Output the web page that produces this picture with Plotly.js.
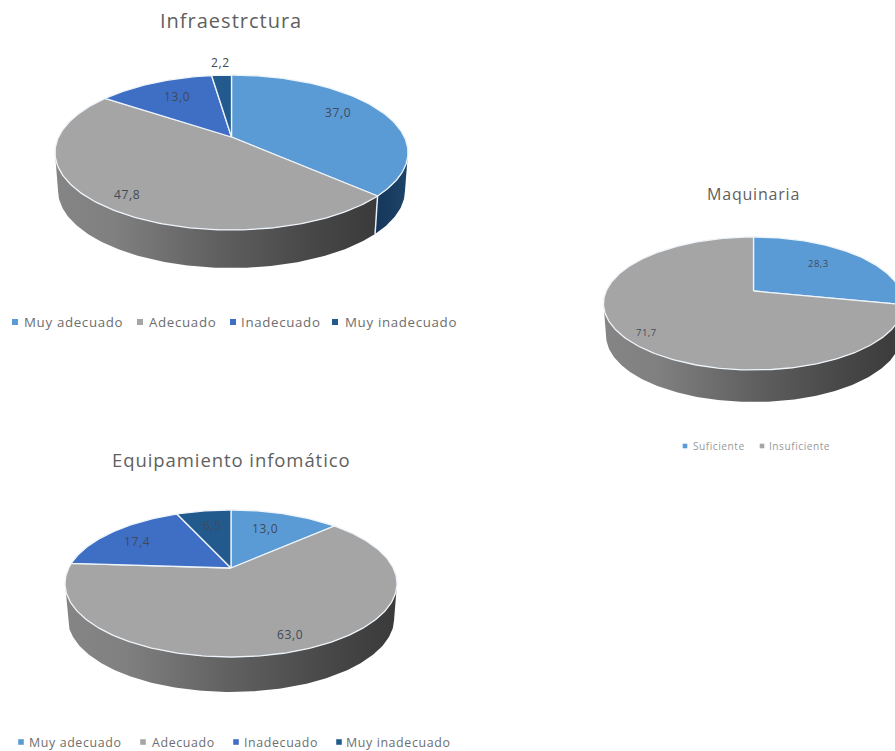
<!DOCTYPE html>
<html>
<head>
<meta charset="utf-8">
<script src="https://cdn.plot.ly/plotly-3.0.1.min.js"></script>
<style>
html,body{margin:0;padding:0;background:#fff}
#chart{width:895px;height:751px}
.annotation-text{letter-spacing:.05em}
</style>
</head>
<body>
<div id="chart"></div>
<script>
// Survey results, in percent
const adequacyLevels = ['Muy adecuado', 'Adecuado', 'Inadecuado', 'Muy inadecuado'];
const sufficiencyLevels = ['Suficiente', 'Insuficiente'];
const infraValues = [37.0, 47.8, 13.0, 2.2];
const maquinariaValues = [28.3, 71.7];
const equipoValues = [13.0, 63.0, 17.4, 6.5];

const sliceColors = ['#5B9BD5', '#A5A5A5', '#3F6FC4', '#235A8E'];
const wallColors = [
  [[0, '#15365a'], [1, '#1d4468']],
  [[0, '#858585'], [0.18, '#808080'], [0.5, '#606060'], [0.8, '#474747'], [1, '#3a3a3a']],
  [[0, '#2b4c8c'], [1, '#2b4c8c']],
  [[0, '#143a5e'], [1, '#143a5e']]
];
const inkColor = '#5f5f5f';

// Layout of each tilted pie: rim extents, apex height, wall depth, and text placement
const pies = [
  {
    title: 'Infraestrctura', titleX: 231, titleY: 20, titleSize: 20,
    values: infraValues, names: adequacyLevels,
    cx: 231.5, apexY: 137, topY: 75, botY: 230, halfW: 176.5, depth: 38,
    labelSize: 12, labelPos: [[338, 112], [127, 194], [177, 96], [220, 62]],
    legendY: 322, legendSize: 13.3, legendColor: '#6e6e6e',
    legendSwatch: [15, 140, 233, 335], legendText: [22, 147, 239, 343]
  },
  {
    title: 'Maquinaria', titleX: 753, titleY: 194, titleSize: 16,
    values: maquinariaValues, names: sufficiencyLevels,
    cx: 753.5, apexY: 291, topY: 237, botY: 370, halfW: 150, depth: 32,
    labelSize: 9.5, labelPos: [[818, 263], [646, 332]],
    legendY: 446, legendSize: 10.2, legendColor: '#9a9a9a',
    legendSwatch: [685, 762], legendText: [691, 767]
  },
  {
    title: 'Equipamiento infomático', titleX: 231, titleY: 459, titleSize: 18.5,
    values: equipoValues, names: adequacyLevels,
    cx: 231, apexY: 568, topY: 510, botY: 657, halfW: 166, depth: 35,
    labelSize: 12, labelPos: [[265, 528], [290, 634], [137, 541], [212, 525]],
    legendY: 742, legendSize: 12.4, legendColor: '#6e6e6e',
    legendSwatch: [21, 143, 236, 339], legendText: [27, 150, 242, 344]
  }
];

const traces = [];
const annotations = [];

function buildPie(p) {
  // Perspective view of a horizontal disc: the apex sits above the centre of the rim ellipse
  const up = p.apexY - p.topY, down = p.botY - p.apexY;
  const tilt = (up - down) / (up + down);
  const A = down * (1 + tilt);
  const K = p.halfW * Math.sqrt(1 - tilt * tilt);
  const rim = (t, shrink, drop) => {
    const u = Math.sin(t), v = -Math.cos(t), d = 1 + tilt * v;
    return [p.cx + shrink * K * u / d, p.apexY + drop + A * v / d];
  };
  const arc = (a, b, shrink, drop) => {
    const pts = [], n = Math.max(2, Math.ceil(Math.abs(b - a) * 60));
    for (let i = 0; i <= n; i++) pts.push(rim(a + (b - a) * i / n, shrink, drop));
    return pts;
  };
  const total = p.values.reduce((s, x) => s + x, 0);
  const bounds = [0];
  p.values.forEach(x => bounds.push(bounds[bounds.length - 1] + x / total * 2 * Math.PI));

  // Front of the disc is visible between the two widest points of the rim
  const visA = Math.acos(tilt), visB = 2 * Math.PI - visA;
  const bottomShrink = 0.983;

  p.values.forEach((_, i) => {
    const a = Math.max(bounds[i], visA), b = Math.min(bounds[i + 1], visB);
    if (b <= a) return;
    const top = arc(a, b, 1, 0), low = arc(b, a, bottomShrink, p.depth);
    const poly = top.concat(low, [top[0]]);
    traces.push({
      type: 'scatter', mode: 'lines', hoverinfo: 'skip', showlegend: false,
      x: poly.map(q => q[0]), y: poly.map(q => q[1]),
      line: {width: 0}, fill: 'toself',
      fillgradient: {type: 'horizontal', colorscale: wallColors[i]}
    });
  });

  // Seams on the front wall where two slices meet
  bounds.slice(1, -1).forEach(t => {
    if (t <= visA || t >= visB) return;
    const s = [rim(t, 1, 0), rim(t, bottomShrink, p.depth)];
    traces.push({
      type: 'scatter', mode: 'lines', hoverinfo: 'skip', showlegend: false,
      x: s.map(q => q[0]), y: s.map(q => q[1]),
      line: {color: '#e6eff7', width: 1.5}
    });
  });

  // Top face
  p.values.forEach((val, i) => {
    const pts = [[p.cx, p.apexY]].concat(arc(bounds[i], bounds[i + 1], 1, 0), [[p.cx, p.apexY]]);
    traces.push({
      type: 'scatter', mode: 'lines', showlegend: false,
      name: p.names[i], hoverinfo: 'name',
      x: pts.map(q => q[0]), y: pts.map(q => q[1]),
      line: {color: '#eef4fa', width: 1.3}, fill: 'toself', fillcolor: sliceColors[i]
    });
    annotations.push({
      x: p.labelPos[i][0], y: p.labelPos[i][1], xref: 'x', yref: 'y', showarrow: false,
      text: val.toFixed(1).replace('.', ','),
      font: {family: 'Open Sans', size: p.labelSize, color: '#404a5a'}
    });
  });

  annotations.push({
    x: p.titleX, y: p.titleY, xref: 'x', yref: 'y', showarrow: false,
    text: p.title, font: {family: 'Open Sans', size: p.titleSize, color: inkColor}
  });

  // Legend row
  p.names.forEach((name, i) => {
    traces.push({
      type: 'scatter', mode: 'markers', hoverinfo: 'skip', showlegend: false,
      x: [p.legendSwatch[i]], y: [p.legendY],
      marker: {symbol: 'square', size: p.legendSize * 0.45, color: sliceColors[i]}
    });
    annotations.push({
      x: p.legendText[i], y: p.legendY, xref: 'x', yref: 'y', xanchor: 'left', showarrow: false,
      text: name, font: {family: 'Open Sans', size: p.legendSize, color: p.legendColor}
    });
  });
}

pies.forEach(buildPie);

Plotly.newPlot('chart', traces, {
  width: 895, height: 751,
  margin: {l: 0, r: 0, t: 0, b: 0},
  paper_bgcolor: '#ffffff', plot_bgcolor: '#ffffff',
  showlegend: false,
  xaxis: {range: [0, 895], visible: false, fixedrange: true},
  yaxis: {range: [751, 0], visible: false, fixedrange: true},
  annotations: annotations
}, {displayModeBar: false});
</script>
</body>
</html>
